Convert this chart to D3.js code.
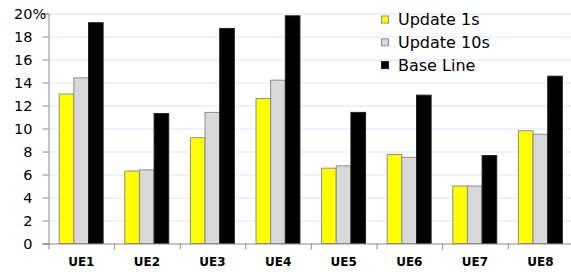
<!DOCTYPE html>
<html>
<head>
<meta charset="utf-8">
<script src="https://cdn.jsdelivr.net/npm/d3@7"></script>
<style>
  body { margin: 0; background: #fff; }
  svg { display: block; font-family: "DejaVu Sans", Verdana, sans-serif; }
</style>
</head>
<body>
<div id="chart"></div>
<script>
const categories = ["UE1", "UE2", "UE3", "UE4", "UE5", "UE6", "UE7", "UE8"];
const seriesNames = ["Update 1s", "Update 10s", "Base Line"];
const update1s  = [13.0, 6.3, 9.2, 12.6, 6.55, 7.75, 5.0, 9.8];
const update10s = [14.4, 6.4, 11.4, 14.2, 6.75, 7.5, 5.0, 9.5];
const baseLine  = [19.2, 11.3, 18.7, 19.8, 11.4, 12.9, 7.65, 14.55];
const yTicks = [0, 2, 4, 6, 8, 10, 12, 14, 16, 18, 20];

const fills = ["#ffff00", "#d9d9d9", "#000000"];
const strokes = ["#8c8c8c", "#8c8c8c", "#222"];

const width = 571, height = 272;
const svg = d3.select("#chart").append("svg")
    .attr("width", width)
    .attr("height", height);

const left = 48.5, bandW = 65.6;
const x = d3.scaleBand()
    .domain(categories)
    .range([left, left + bandW * categories.length])
    .padding(0);

const x1 = d3.scaleBand()
    .domain(seriesNames)
    .range([bandW * 0.163, bandW * 0.833])
    .padding(0);

const y = d3.scaleLinear()
    .domain([0, 20])
    .range([243.5, 13.5]);

// gridlines
svg.append("g")
    .selectAll("line")
    .data(yTicks.filter(d => d > 0))
    .enter().append("line")
    .attr("x1", left).attr("x2", width)
    .attr("y1", d => y(d) + 0.5).attr("y2", d => y(d) + 0.5)
    .attr("stroke", "#dfe7f3")
    .attr("stroke-width", 1);

// bars
const rows = categories.map((c, i) => ({
    cat: c,
    vals: [update1s[i], update10s[i], baseLine[i]]
}));

const grp = svg.append("g")
    .selectAll("g")
    .data(rows)
    .enter().append("g")
    .attr("transform", d => `translate(${x(d.cat)},0)`);

grp.selectAll("rect")
    .data(d => d.vals.map((v, k) => ({ v, k })))
    .enter().append("rect")
    .attr("x", d => x1(seriesNames[d.k]))
    .attr("width", x1.bandwidth())
    .attr("y", d => y(d.v))
    .attr("height", d => y(0) - y(d.v))
    .attr("fill", d => fills[d.k])
    .attr("stroke", d => strokes[d.k])
    .attr("stroke-width", 1);

// y axis
const yAxis = svg.append("g")
    .attr("transform", `translate(${left},0)`)
    .call(d3.axisLeft(y).tickValues(yTicks).tickSize(6).tickPadding(10));
yAxis.select(".domain").attr("stroke", "#8c8c8c");
yAxis.selectAll(".tick line").attr("stroke", "#8c8c8c");
yAxis.selectAll(".tick text")
    .attr("font-size", "14.5px")
    .attr("fill", "#000")
    .style("font-family", "DejaVu Sans, sans-serif");
yAxis.selectAll(".tick")
    .filter(d => d === 20)
    .append("text")
    .attr("x", -16)
    .attr("dy", "0.32em")
    .attr("text-anchor", "start")
    .attr("font-size", "14.5px")
    .attr("fill", "#000")
    .style("font-family", "DejaVu Sans, sans-serif")
    .text("%");

// x axis
const xAxis = svg.append("g")
    .attr("transform", `translate(0,${y(0)})`)
    .call(d3.axisBottom(x).tickSize(0).tickPadding(14));
xAxis.select(".domain").attr("stroke", "#8c8c8c").attr("d", `M${left - 6},0.5H${width}`);
xAxis.selectAll(".tick text")
    .attr("font-size", "12px")
    .attr("font-weight", "bold")
    .attr("fill", "#000")
    .style("font-family", "DejaVu Sans, sans-serif");

// boundary ticks between categories
svg.append("g")
    .selectAll("line")
    .data(categories)
    .enter().append("line")
    .attr("x1", d => x(d) + 0.5).attr("x2", d => x(d) + 0.5)
    .attr("y1", y(0)).attr("y2", y(0) + 6)
    .attr("stroke", "#8c8c8c");

// legend
const legend = svg.append("g")
    .attr("transform", "translate(381,0)");
const item = legend.selectAll("g")
    .data(seriesNames)
    .enter().append("g")
    .attr("transform", (d, i) => `translate(0,${19.5 + i * 22.8})`);
item.append("rect")
    .attr("x", 0.5).attr("y", -3.5)
    .attr("width", 7).attr("height", 7)
    .attr("fill", (d, i) => fills[i])
    .attr("stroke", (d, i) => strokes[i]);
item.append("text")
    .attr("x", 17)
    .attr("dy", "0.36em")
    .attr("font-size", "16px")
    .attr("fill", "#000")
    .text(d => d);
</script>
</body>
</html>
